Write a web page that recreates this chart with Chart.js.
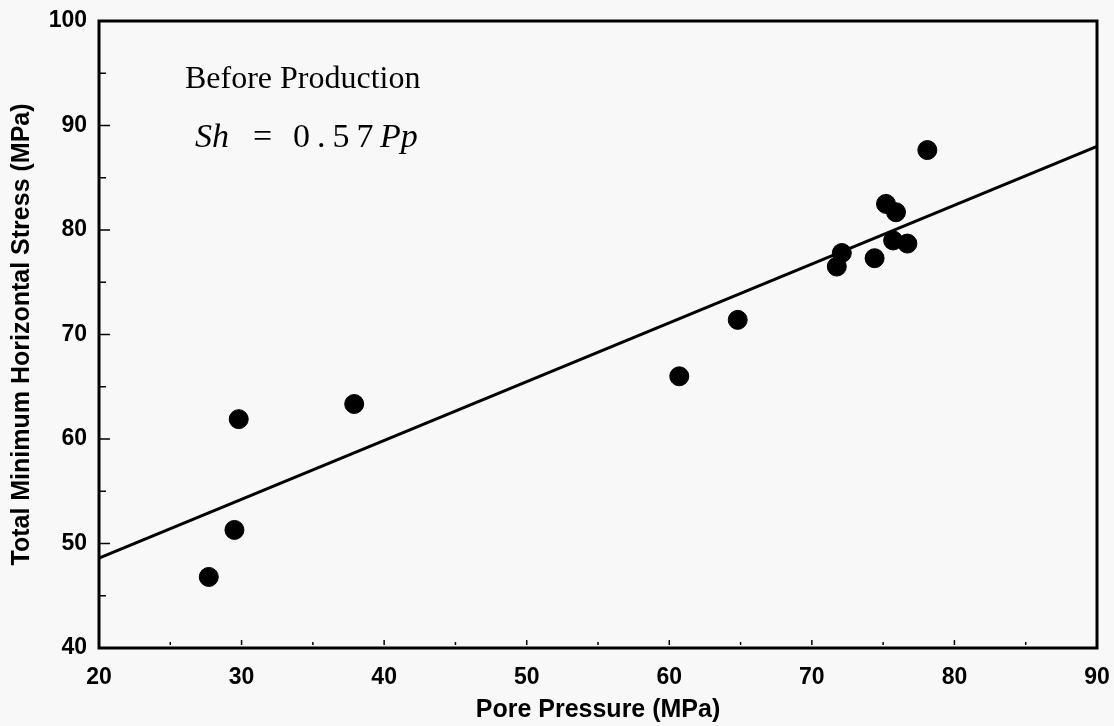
<!DOCTYPE html>
<html>
<head>
<meta charset="utf-8">
<script src="https://cdn.jsdelivr.net/npm/chart.js@4/dist/chart.umd.min.js"></script>
<style>
  html, body { margin: 0; padding: 0; background: #f8f8f8; }
  #wrap { width: 1114px; height: 726px; position: relative; }
</style>
</head>
<body>
<div id="wrap"><canvas id="grafico"></canvas></div>
<script>
// ===== Datos =====
const porePressure = [27.7, 29.5, 29.8, 37.9, 60.7, 64.8, 71.75, 72.1, 74.4, 75.2, 75.9, 75.7, 76.7, 78.1];
const minStress    = [46.8, 51.3, 61.9, 63.35, 66.0, 71.4, 76.5, 77.8, 77.3, 82.5, 81.7, 79.0, 78.7, 87.65];

const fitX = [20, 90];
const fitY = [48.6, 88.0];

const xTicks = [20, 30, 40, 50, 60, 70, 80, 90];
const yTicks = [40, 50, 60, 70, 80, 90, 100];

const xTitle = "Pore Pressure (MPa)";
const yTitle = "Total Minimum Horizontal Stress (MPa)";
const note1 = "Before Production";

// ===== Plugins =====
// marco + ticks hacia adentro
const marco = {
  id: 'marco',
  afterDraw(chart) {
    const { ctx, chartArea: a, scales } = chart;
    ctx.save();
    ctx.strokeStyle = '#000';
    ctx.lineWidth = 3;
    ctx.strokeRect(a.left, a.top, a.right - a.left, a.bottom - a.top);

    ctx.lineWidth = 1.5;
    // eje y: mayores cada 10, menores cada 5
    for (let v = 40; v <= 100; v += 5) {
      const y = scales.y.getPixelForValue(v);
      const len = v % 10 === 0 ? 11 : 7;
      ctx.beginPath();
      ctx.moveTo(a.left, y);
      ctx.lineTo(a.left + len, y);
      ctx.stroke();
    }
    // eje x: marcas pequeñas
    for (let v = 25; v < 90; v += 5) {
      const x = scales.x.getPixelForValue(v);
      const len = v % 10 === 0 ? 5 : 3;
      ctx.beginPath();
      ctx.moveTo(x, a.bottom - 3);
      ctx.lineTo(x, a.bottom - 3 - len);
      ctx.stroke();
    }
    ctx.restore();
  }
};

// textos dentro del grafico
const anotaciones = {
  id: 'anotaciones',
  afterDraw(chart) {
    const { ctx, chartArea: a } = chart;
    const serif = '"Liberation Serif", "Times New Roman", serif';
    ctx.save();
    ctx.fillStyle = '#000';
    ctx.textBaseline = 'alphabetic';
    ctx.font = '32px ' + serif;
    ctx.fillText(note1, a.left + 86, 88);

    const base = 147;
    ctx.font = 'italic 34px ' + serif;
    ctx.fillText('Sh', a.left + 96, base);
    ctx.font = '34px ' + serif;
    ctx.fillText('=', a.left + 154, base);
    ctx.letterSpacing = '7px';
    ctx.fillText('0.57', a.left + 194, base);
    ctx.letterSpacing = '0px';
    ctx.font = 'italic 34px ' + serif;
    ctx.fillText('Pp', a.left + 281, base);
    ctx.restore();
  }
};

// ===== Chart.js =====
const ctx = document.getElementById('grafico').getContext('2d');
const fuente = { family: '"Liberation Sans", Arial, sans-serif', size: 23, weight: 'bold' };
const fuenteTitulo = { family: '"Liberation Sans", Arial, sans-serif', size: 25, weight: 'bold' };

new Chart(ctx, {
  type: 'scatter',
  data: {
    datasets: [
      {
        label: 'datos',
        data: porePressure.map((x, i) => ({ x, y: minStress[i] })),
        backgroundColor: '#000',
        borderColor: '#000',
        pointRadius: 9.5,
        pointHoverRadius: 9.5
      },
      {
        label: 'ajuste',
        type: 'line',
        data: fitX.map((x, i) => ({ x, y: fitY[i] })),
        borderColor: '#000',
        borderWidth: 3,
        pointRadius: 0,
        fill: false
      }
    ]
  },
  options: {
    responsive: true,
    maintainAspectRatio: false,
    animation: false,
    layout: { padding: { left: 0, right: 17, top: 21, bottom: 0 } },
    scales: {
      x: {
        type: 'linear',
        min: 20, max: 90,
        afterBuildTicks: s => { s.ticks = xTicks.map(v => ({ value: v })); },
        afterFit: s => { s.height = 78; s.paddingLeft = 0; s.paddingRight = 0; },
        grid: { display: false, drawTicks: false },
        border: { display: false },
        ticks: { color: '#000', font: fuente, padding: 16 },
        title: { display: true, text: xTitle, color: '#000', font: fuenteTitulo, padding: { top: 0, bottom: 1 } }
      },
      y: {
        type: 'linear',
        min: 40, max: 100,
        afterBuildTicks: s => { s.ticks = yTicks.map(v => ({ value: v })); },
        afterFit: s => { s.width = 99; s.paddingTop = 0; s.paddingBottom = 0; },
        grid: { display: false, drawTicks: false },
        border: { display: false },
        ticks: { color: '#000', font: fuente, padding: 12 },
        title: { display: true, text: yTitle, color: '#000', font: fuenteTitulo, padding: { top: 7, bottom: 2 } }
      }
    },
    plugins: {
      legend: { display: false },
      tooltip: { enabled: false }
    }
  },
  plugins: [marco, anotaciones]
});
</script>
</body>
</html>
